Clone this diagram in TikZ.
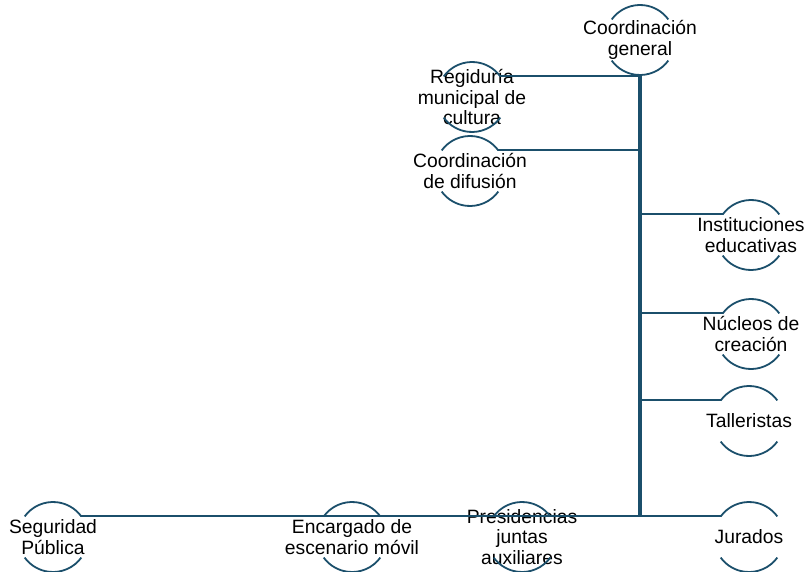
\documentclass[tikz,border=0pt]{standalone}
\usepackage{fontspec}
\setmainfont{Liberation Sans}
\usepackage{tikz}
\usetikzlibrary{positioning}
\definecolor{orgline}{HTML}{1B4F6B}

\begin{document}
\begin{tikzpicture}[x=1pt,y=-1pt,
  bub/.style={circle,minimum size=70pt,inner sep=0pt},
  txt/.style={align=center,font=\fontsize{19.3}{20.3}\selectfont,inner sep=0pt},
  rim/.style={draw=orgline,line width=1.8pt},
  link/.style={draw=orgline,line width=2.2pt},
  trunk/.style={draw=orgline,line width=3.5pt}]
  \useasboundingbox (0,0) rectangle (808,572);

  \node[bub,label={[txt]center:Coordinación\\general}]            (cg)   at (640,40)  {};
  \node[bub,label={[txt]center:Regiduría\\municipal de\\cultura}] (reg)  at (472,97)  {};
  \node[bub,label={[txt]center:Coordinación\\de difusión}]        (dif)  at (470,171) {};
  \node[bub,label={[txt]center:Instituciones\\educativas}]        (inst) at (751,235) {};
  \node[bub,label={[txt]center:Núcleos de\\creación}]             (nuc)  at (751,334) {};
  \node[bub,label={[txt]center:Talleristas}]                      (tall) at (749,421) {};
  \node[bub,label={[txt]center:Seguridad\\Pública}]               (seg)  at (53,537)  {};
  \node[bub,label={[txt]center:Encargado de\\escenario móvil}]    (enc)  at (352,537) {};
  \node[bub,label={[txt]center:Presidencias\\juntas\\auxiliares}] (pres) at (522,537) {};
  \node[bub,label={[txt]center:Jurados}]                          (jur)  at (749,537) {};

  \coordinate (bot) at (cg.center |- seg.36);

  \foreach \n in {cg,reg,dif,inst,nuc,tall,seg,enc,pres,jur}
    \draw[rim] ([shift={(36:35)}]\n.center) arc[start angle=36,end angle=144,radius=35]
               ([shift={(216:35)}]\n.center) arc[start angle=216,end angle=324,radius=35];

  \draw[trunk] (cg.south) -- (bot);

  \draw[link] (reg.36) -- (reg.36 -| cg);
  \draw[link] (dif.36) -- (dif.36 -| cg);
  \draw[link] (inst.144) -- (inst.144 -| cg);
  \draw[link] (nuc.144) -- (nuc.144 -| cg);
  \draw[link] (tall.144) -- (tall.144 -| cg);

  \draw[link] (bot) -- (seg.36);
  \draw[link] (bot) -- (enc.36);
  \draw[link] (bot) -- (pres.36);
  \draw[link] (bot) -- (jur.144);
\end{tikzpicture}
\end{document}
